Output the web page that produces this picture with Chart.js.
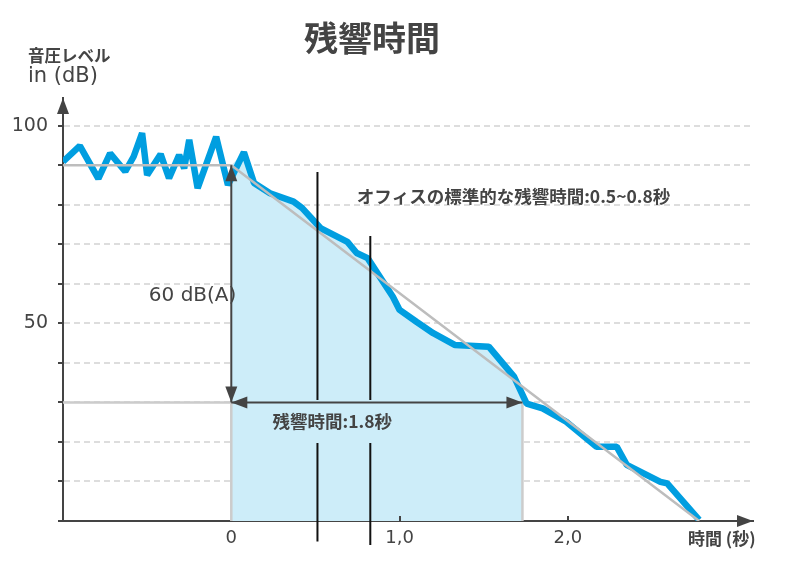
<!DOCTYPE html>
<html>
<head>
<meta charset="utf-8">
<script src="https://cdn.jsdelivr.net/npm/chart.js@4.4.1/dist/chart.umd.min.js"></script>
<style>
  body { margin: 0; background: #fff; }
  canvas { display: block; }
</style>
</head>
<body>
<canvas id="decayChart" width="792" height="566"></canvas>
<script>
// measured sound level (dB) over time (s)
const times  = [-1.0, -0.90, -0.79, -0.72, -0.63, -0.58, -0.53, -0.50, -0.42, -0.37, -0.31, -0.28, -0.25, -0.20, -0.09, -0.02,
                0.075, 0.135, 0.23, 0.37, 0.42, 0.53, 0.69, 0.745, 0.81, 0.96, 1.00, 1.10, 1.20, 1.33, 1.53, 1.68,
                1.755, 1.85, 1.99, 2.17, 2.29, 2.35, 2.55, 2.59, 2.78];
const levels = [90.9, 94.9, 86.6, 93.0, 88.4, 92.2, 98.1, 87.5, 92.8, 86.7, 92.6, 89.2, 96.4, 84.2, 97.2, 85.0,
                93.3, 85.5, 82.9, 80.8, 79.2, 74.1, 70.6, 67.8, 66.5, 56.7, 53.4, 50.4, 47.5, 44.5, 44.1, 36.5,
                29.7, 28.5, 25.1, 18.8, 18.8, 14.2, 9.9, 9.5, 0.3];

// shaded decay area (0 s to end of 60 dB drop)
const areaTimes  = [0, 0.075, 0.135, 0.23, 0.37, 0.42, 0.53, 0.69, 0.745, 0.81, 0.96, 1.00, 1.10, 1.20, 1.33, 1.53, 1.68, 1.73];
const areaLevels = [90, 93.3, 85.5, 82.9, 80.8, 79.2, 74.1, 70.6, 67.8, 66.5, 56.7, 53.4, 50.4, 47.5, 44.5, 44.1, 36.5, 31];

// idealised decay
const fitTimes  = [-1.0, 0, 2.78];
const fitLevels = [90, 90, 0];

// 30 dB guide lines
const guideTimes  = [0, 0, -1.0];
const guideLevels = [0, 30, 30];
const endTimes  = [1.73, 1.73];
const endLevels = [0, 30];

// typical office reverberation range markers
const markerA = [[0.512, 88.3], [0.512, 30.6], [0.512, null], [0.512, 19.7], [0.512, -5.2]];
const markerB = [[0.826, 72.1], [0.826, 30.6], [0.826, null], [0.826, 19.7], [0.826, -6.1]];

// double-headed arrows [x1, y1, x2, y2]
const arrows = [[0, 30, 0, 90], [0, 30, 1.73, 30]];

const xTicks = [0, 1, 2];
const xTickLabels = ['0', '1,0', '2,0'];
const yTicks = [0, 10, 20, 30, 40, 50, 60, 70, 80, 90, 100];
const yTickLabels = { 100: '100', 50: '50' };

const notes = [
  { text: '60 dB(A)', x: -0.49, y: 57, font: '20px "DejaVu Sans"' },
  { text: 'オフィスの標準的な残響時間:0.5~0.8秒', x: 0.745, y: 82.2, font: 'bold 17.5px "Noto Sans CJK JP"' },
  { text: '残響時間:1.8秒', x: 0.245, y: 25.3, font: 'bold 17.5px "Noto Sans CJK JP"' }
];

const DARK = '#444444';
const pts = (xs, ys) => xs.map((x, i) => ({ x: x, y: ys[i] }));
const pairs = a => a.map(p => ({ x: p[0], y: p[1] }));

function head(ctx, tx, ty, fx, fy, len, half) {
  const a = Math.atan2(ty - fy, tx - fx);
  ctx.beginPath();
  ctx.moveTo(tx, ty);
  ctx.lineTo(tx - len * Math.cos(a) + half * Math.sin(a), ty - len * Math.sin(a) - half * Math.cos(a));
  ctx.lineTo(tx - len * Math.cos(a) - half * Math.sin(a), ty - len * Math.sin(a) + half * Math.cos(a));
  ctx.closePath();
  ctx.fill();
}

const decorations = {
  id: 'decorations',
  afterDraw(chart) {
    const { ctx, scales: { x, y } } = chart;
    ctx.save();
    ctx.fillStyle = DARK;
    ctx.strokeStyle = DARK;

    // axis arrowheads
    head(ctx, x.right, y.bottom, x.left, y.bottom, 16, 6);
    head(ctx, x.left, y.top, x.left, y.bottom, 16, 6);

    // small x ticks pointing up
    ctx.lineWidth = 2;
    xTicks.slice(1).forEach(v => {
      const px = Math.round(x.getPixelForValue(v));
      ctx.beginPath();
      ctx.moveTo(px, y.bottom);
      ctx.lineTo(px, y.bottom - 5);
      ctx.stroke();
    });

    // arrows
    arrows.forEach(a => {
      const x1 = x.getPixelForValue(a[0]), y1 = y.getPixelForValue(a[1]);
      const x2 = x.getPixelForValue(a[2]), y2 = y.getPixelForValue(a[3]);
      ctx.lineWidth = 2;
      ctx.beginPath();
      ctx.moveTo(x1, y1);
      ctx.lineTo(x2, y2);
      ctx.stroke();
      head(ctx, x1, y1, x2, y2, 16, 6);
      head(ctx, x2, y2, x1, y1, 16, 6);
    });

    // annotations
    ctx.textBaseline = 'middle';
    ctx.textAlign = 'left';
    notes.forEach(n => {
      ctx.font = n.font;
      ctx.fillText(n.text, x.getPixelForValue(n.x), y.getPixelForValue(n.y));
    });

    // titles
    ctx.font = 'bold 34px "Noto Sans CJK JP"';
    ctx.textAlign = 'center';
    ctx.fillText('残響時間', 372, 38);
    ctx.textAlign = 'left';
    ctx.font = 'bold 16.5px "Noto Sans CJK JP"';
    ctx.fillText('音圧レベル', 28, 56);
    ctx.font = '21px "DejaVu Sans"';
    ctx.fillText('in (dB)', 28, 77);
    ctx.font = 'bold 17px "Noto Sans CJK JP"';
    ctx.fillText('時間 (秒)', 688, 539);
    ctx.restore();
  }
};

new Chart(document.getElementById('decayChart').getContext('2d'), {
  type: 'line',
  data: {
    datasets: [{
        label: 'markers',
        data: pairs(markerA),
        borderColor: '#111111',
        borderWidth: 2,
        pointRadius: 0,
        spanGaps: false,
        clip: false,
        order: 0
      }, {
        label: 'markers2',
        data: pairs(markerB),
        borderColor: '#111111',
        borderWidth: 2,
        pointRadius: 0,
        spanGaps: false,
        clip: false,
        order: 0
      }, {
        label: 'fit',
        data: pts(fitTimes, fitLevels),
        borderColor: '#bdbdbd',
        borderWidth: 2.5,
        pointRadius: 0,
        order: 1
      }, {
        label: 'level',
        data: pts(times, levels),
        borderColor: '#009ee0',
        borderWidth: 6.5,
        borderJoinStyle: 'bevel',
        pointRadius: 0,
        order: 2
      }, {
        label: 'guide',
        data: pts(guideTimes, guideLevels),
        borderColor: '#cccccc',
        borderWidth: 2.5,
        pointRadius: 0,
        order: 3
      }, {
        label: 'guideEnd',
        data: pts(endTimes, endLevels),
        borderColor: '#cccccc',
        borderWidth: 2.5,
        pointRadius: 0,
        order: 3
      }, {
        label: 'area',
        data: pts(areaTimes, areaLevels),
        borderWidth: 0,
        borderColor: 'rgba(0,0,0,0)',
        backgroundColor: '#cdedf9',
        fill: 'origin',
        pointRadius: 0,
        order: 4
      }]
  },
  options: {
    responsive: false,
    animation: false,
    events: [],
    layout: { padding: { top: 98, right: 39, left: 10, bottom: 0 } },
    plugins: { legend: { display: false }, tooltip: { enabled: false } },
    scales: {
      x: {
        type: 'linear',
        min: -1,
        max: 3.1,
        afterBuildTicks: s => { s.ticks = xTicks.map(v => ({ value: v })); },
        afterFit: s => { s.height = 45; },
        ticks: {
          callback: v => xTickLabels[xTicks.indexOf(v)],
          font: { family: 'DejaVu Sans', size: 18 },
          color: DARK,
          padding: 7,
          maxRotation: 0,
          autoSkip: false
        },
        grid: { display: false, drawTicks: false },
        border: { display: true, color: DARK, width: 2 }
      },
      y: {
        type: 'linear',
        min: 0,
        max: 107,
        afterBuildTicks: s => { s.ticks = yTicks.map(v => ({ value: v })); },
        afterFit: s => { s.width = 53; },
        ticks: {
          callback: v => yTickLabels[v] || '',
          font: { family: 'DejaVu Sans', size: 19 },
          color: DARK,
          padding: 10,
          autoSkip: false
        },
        grid: {
          color: c => (c.tick && c.tick.value > 0) ? '#dddddd' : 'rgba(0,0,0,0)',
          lineWidth: 2,
          tickLength: 5,
          tickColor: DARK,
          tickWidth: 2,
          tickBorderDash: []
        },
        border: { display: true, color: DARK, width: 2, dash: [6, 4] }
      }
    }
  },
  plugins: [decorations]
});
</script>
</body>
</html>
